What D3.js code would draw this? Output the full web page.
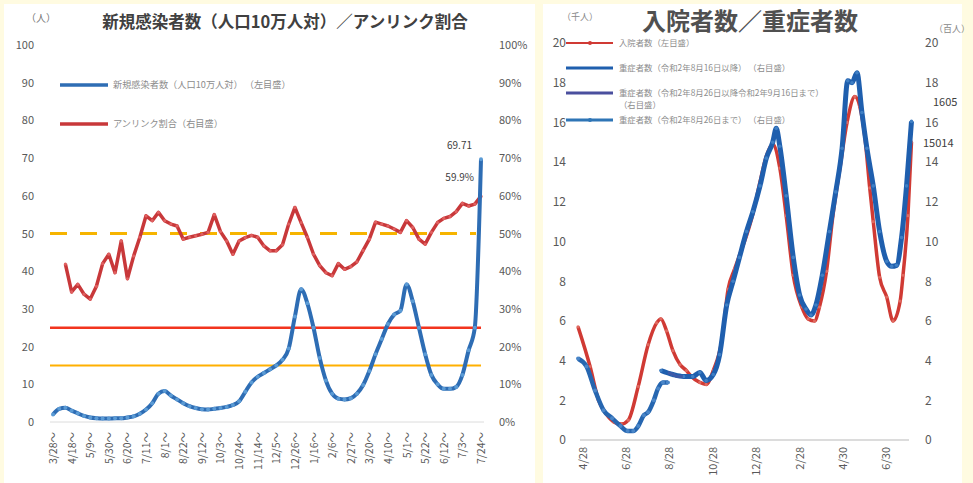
<!DOCTYPE html>
<html>
<head>
<meta charset="utf-8">
<script src="https://cdn.jsdelivr.net/npm/d3@7"></script>
<style>
    body { margin: 0; background: #fffbe1; }
    svg { display: block; }
    text { font-family: "Noto Sans CJK JP", "Noto Sans", sans-serif; }
</style>
</head>
<body>
<svg id="chart" width="973" height="483"></svg>
<script>
// ---------- left chart data (weekly, 3/28 ~ 7/24) ----------
const weekLabels = ["3/28～","4/18～","5/9～","5/30～","6/20～","7/11～","8/1～","8/22～","9/12～","10/3～","10/24～","11/14～","12/5～","12/26～","1/16～","2/6～","2/27～","3/20～","4/10～","5/1～","5/22～","6/12～","7/3～","7/24～"];

// new cases per 100k (left axis)
const newCases = [2.0,3.5,3.8,3.0,2.3,1.6,1.2,1.0,0.9,0.9,1.0,1.0,1.2,1.5,2.2,3.3,5.0,7.5,8.2,7.0,
    6.0,5.0,4.2,3.7,3.4,3.3,3.5,3.7,4.0,4.5,5.5,8.0,10.5,12.0,13.0,14.0,15.0,16.5,19.5,28.0,
    35.2,31.5,25.0,17.0,11.0,7.5,6.2,6.0,6.3,7.5,9.8,13.5,18.0,22.0,26.0,28.5,29.5,36.5,32.0,25.0,
    18.0,12.5,10.0,8.8,8.8,9.3,12.5,19.0,25.0,69.71];

// unlinked share % (right axis)
const unlinked = [null,null,41.9,34.5,36.5,33.9,32.6,36.0,42.0,44.5,39.6,48.0,38.0,44.0,49.0,54.7,53.4,55.6,53.4,52.5,
    52.0,48.5,49.0,49.4,49.8,50.3,55.0,50.5,48.0,44.5,48.0,48.9,49.5,49.0,46.7,45.4,45.4,47.0,52.5,56.9,
    52.9,49.0,44.5,41.5,39.6,38.8,42.0,40.5,41.2,42.5,45.5,48.5,53.0,52.5,52.0,51.2,50.3,53.4,51.6,48.5,
    47.2,50.3,52.9,54.0,54.5,55.8,58.0,57.3,57.8,59.9];

const refLevels = [50, 25, 15];

// ---------- right chart data ----------
const hospDates = ["2020-04-21","2020-05-08","2020-05-20","2020-05-31","2020-06-11","2020-06-21","2020-07-01","2020-07-15","2020-07-29","2020-08-10",
    "2020-08-16","2020-08-24","2020-09-02","2020-09-12","2020-09-21","2020-09-28","2020-10-10","2020-10-19","2020-10-29","2020-11-10",
    "2020-11-19","2020-11-28","2020-12-05","2020-12-15","2020-12-24","2021-01-03","2021-01-12","2021-01-21","2021-01-31","2021-02-09",
    "2021-02-19","2021-03-03","2021-03-12","2021-03-21","2021-03-28","2021-04-07","2021-04-16","2021-04-26","2021-05-06","2021-05-17",
    "2021-05-24","2021-05-31","2021-06-07","2021-06-12","2021-06-21","2021-07-01","2021-07-10","2021-07-20","2021-07-24","2021-07-31","2021-08-05"];
const hospValues = [5.7,3.7,2.0,1.3,0.9,0.8,1.0,2.7,4.8,5.9,
    6.1,5.5,4.5,3.8,3.5,3.2,2.9,2.8,3.5,5.0,
    7.6,8.6,9.3,10.3,11.4,13.0,14.3,14.9,13.7,11.3,
    8.3,6.7,6.1,6.0,6.7,8.5,11.3,13.7,16.0,17.3,
    16.8,15.3,12.7,11.0,8.2,7.2,6.0,7.0,8.3,11.3,15.014];

const severeLateDates = ["2020-08-16","2020-09-02","2020-09-17","2020-09-30","2020-10-10","2020-10-19","2020-10-29","2020-11-07","2020-11-17","2020-11-26",
    "2020-12-05","2020-12-15","2020-12-24","2021-01-03","2021-01-12","2021-01-21","2021-01-26","2021-01-31","2021-02-09","2021-02-19",
    "2021-02-28","2021-03-09","2021-03-16","2021-03-23","2021-04-01","2021-04-11","2021-04-20","2021-04-29","2021-05-07","2021-05-13",
    "2021-05-20","2021-05-27","2021-06-03","2021-06-12","2021-06-21","2021-07-01","2021-07-08","2021-07-15","2021-07-22","2021-07-29","2021-08-05"];
const severeLateValues = [3.5,3.3,3.2,3.2,3.4,3.0,3.3,4.3,6.8,8.0,
    9.2,10.5,11.5,12.8,14.2,15.0,15.7,14.8,12.3,9.2,
    7.3,6.6,6.3,6.8,8.3,10.5,12.5,14.7,18.1,18.0,
    18.5,16.5,14.7,12.8,10.5,9.0,8.75,8.8,10.2,12.8,16.05];

const severeMidDates = ["2020-08-26","2020-09-02","2020-09-09","2020-09-16"];
const severeMidValues = [3.4,3.3,3.2,3.2];

const severeEarlyDates = ["2020-04-21","2020-05-03","2020-05-15","2020-05-27","2020-06-08","2020-06-20","2020-06-30","2020-07-08","2020-07-15","2020-07-23",
    "2020-07-29","2020-08-06","2020-08-12","2020-08-19","2020-08-26"];
const severeEarlyValues = [4.1,3.7,2.5,1.5,1.1,0.7,0.45,0.45,0.7,1.25,1.4,2.0,2.6,2.9,2.9];

const rightTickDates = ["2020-04-28","2020-06-28","2020-08-28","2020-10-28","2020-12-28","2021-02-28","2021-04-30","2021-06-30"];
const rightTickLabels = ["4/28","6/28","8/28","10/28","12/28","2/28","4/30","6/30"];

const legendLeft = ["新規感染者数（人口10万人対） （左目盛）", "アンリンク割合（右目盛）"];
const legendRight = ["入院者数（左目盛）", "重症者数（令和2年8月16日以降） （右目盛）",
    "重症者数（令和2年8月26日以降令和2年9月16日まで）", "重症者数（令和2年8月26日まで） （右目盛）"];

const blueColor = "#2e6db4";
const redColor = "#c8383a";
const axisText = "#595959";

const svg = d3.select("#chart");

// panels
svg.append("rect").attr("x", 4).attr("y", 4).attr("width", 531).attr("height", 479).attr("fill", "#fff");
svg.append("rect").attr("x", 543).attr("y", 4).attr("width", 419).attr("height", 479).attr("fill", "#fff");

drawLeft();
drawRight();

function drawLeft() {
    const g = svg.append("g");
    const idx = d3.range(newCases.length);
    const x = d3.scalePoint().domain(idx).range([53, 481]);
    const y = d3.scaleLinear().domain([0, 100]).range([422, 45]);
    const yr = d3.scaleLinear().domain([0, 1]).range([422, 45]);

    // title + units
    g.append("text").attr("x", 285).attr("y", 28).attr("text-anchor", "middle")
        .attr("font-size", 16.5).attr("font-weight", 700).attr("fill", "#404040")
        .text("新規感染者数（人口10万人対）／アンリンク割合");
    g.append("text").attr("x", 26).attr("y", 22).attr("font-size", 10).attr("fill", "#777").text("（人）");

    // left axis
    const yAxis = d3.axisLeft(y).tickValues(d3.range(0, 101, 10)).tickSize(0).tickPadding(0);
    g.append("g").attr("transform", "translate(34,0)").call(yAxis)
        .call(a => a.select(".domain").remove())
        .selectAll("text").attr("font-size", 11).attr("fill", axisText)
        .attr("font-family", "'Noto Sans', sans-serif");

    // right axis (%)
    const yrAxis = d3.axisRight(yr).tickValues(d3.range(0, 1.01, 0.1)).tickFormat(d3.format(".0%")).tickSize(0).tickPadding(0);
    g.append("g").attr("transform", "translate(499,0)").call(yrAxis)
        .call(a => a.select(".domain").remove())
        .selectAll("text").attr("font-size", 11).attr("fill", axisText)
        .attr("font-family", "'Noto Sans', sans-serif");

    // baseline
    g.append("line").attr("x1", 50).attr("x2", 484).attr("y1", y(0)).attr("y2", y(0))
        .attr("stroke", "#dcdcdc").attr("stroke-width", 1);

    // x labels every 3 weeks
    const tickIdx = idx.filter(i => i % 3 === 0);
    g.append("g").selectAll("text")
        .data(tickIdx)
        .enter()
        .append("text")
        .attr("transform", d => `translate(${x(d) + 4},432) rotate(-90)`)
        .attr("text-anchor", "end")
        .attr("font-size", 10.5)
        .attr("fill", axisText)
        .text((d, i) => weekLabels[i]);

    // reference lines
    g.append("line").attr("x1", 50).attr("x2", 476).attr("y1", y(refLevels[0])).attr("y2", y(refLevels[0]))
        .attr("stroke", "#f6b400").attr("stroke-width", 3).attr("stroke-dasharray", "17,13");
    g.append("line").attr("x1", 50).attr("x2", 481).attr("y1", y(refLevels[1])).attr("y2", y(refLevels[1]))
        .attr("stroke", "#f2341e").attr("stroke-width", 2.5);
    g.append("line").attr("x1", 50).attr("x2", 481).attr("y1", y(refLevels[2])).attr("y2", y(refLevels[2]))
        .attr("stroke", "#ffb000").attr("stroke-width", 2);

    // unlinked share line
    const redPts = idx.filter(i => unlinked[i] != null);
    const redLine = d3.line().x(i => x(i)).y(i => yr(unlinked[i] / 100));
    g.append("path").attr("d", redLine(redPts)).attr("fill", "none")
        .attr("stroke", redColor).attr("stroke-width", 3.5).attr("stroke-linejoin", "round");
    g.append("g").selectAll("circle").data(redPts).enter().append("circle")
        .attr("cx", i => x(i)).attr("cy", i => yr(unlinked[i] / 100)).attr("r", 1.6).attr("fill", "#e06060");

    // new cases line
    const blueLine = d3.line().x(i => x(i)).y(i => y(newCases[i])).curve(d3.curveMonotoneX);
    g.append("path").attr("d", blueLine(idx)).attr("fill", "none")
        .attr("stroke", blueColor).attr("stroke-width", 4).attr("stroke-linejoin", "round");
    g.append("g").selectAll("circle").data(idx).enter().append("circle")
        .attr("cx", i => x(i)).attr("cy", i => y(newCases[i])).attr("r", 2).attr("fill", "#5b9bd5");

    // annotations
    const last = idx.length - 1;
    g.append("text").attr("x", x(last) - 9).attr("y", y(newCases[last]) - 10).attr("text-anchor", "end")
        .attr("font-size", 10).attr("fill", "#404040").text(newCases[last].toFixed(2));
    g.append("text").attr("x", x(last) - 7).attr("y", yr(unlinked[last] / 100) - 15).attr("text-anchor", "end")
        .attr("font-size", 10).attr("fill", "#404040").text(unlinked[last].toFixed(1) + "%");

    // legend
    const lg = g.append("g");
    [blueColor, redColor].forEach((c, i) => {
        const ly = 85 + i * 39;
        lg.append("line").attr("x1", 60).attr("x2", 108).attr("y1", ly).attr("y2", ly)
            .attr("stroke", c).attr("stroke-width", 3.5);
        lg.append("text").attr("x", 113).attr("y", ly + 3).attr("font-size", 9.2).attr("fill", "#8c8c8c")
            .text(legendLeft[i]);
    });
}

function drawRight() {
    const g = svg.append("g");
    const parse = d3.timeParse("%Y-%m-%d");
    const x = d3.scaleTime().domain([parse("2020-04-28"), parse("2021-06-30")]).range([583, 886]);
    const y = d3.scaleLinear().domain([0, 20]).range([440, 43]);

    // title + units
    g.append("text").attr("x", 750).attr("y", 30).attr("text-anchor", "middle")
        .attr("font-size", 24).attr("font-weight", 700).attr("fill", "#505050")
        .text("入院者数／重症者数");
    g.append("text").attr("x", 562).attr("y", 20).attr("font-size", 9).attr("fill", "#888").text("（千人）");
    g.append("text").attr("x", 934).attr("y", 32).attr("font-size", 9).attr("fill", "#888").text("（百人）");

    const ticks = d3.range(0, 21, 2);
    g.append("g").attr("transform", "translate(566,0)")
        .call(d3.axisLeft(y).tickValues(ticks).tickSize(0).tickPadding(0))
        .call(a => a.select(".domain").remove())
        .selectAll("text").attr("font-size", 12).attr("fill", axisText)
        .attr("font-family", "'Noto Sans', sans-serif");
    g.append("g").attr("transform", "translate(925,0)")
        .call(d3.axisRight(y).tickValues(ticks).tickSize(0).tickPadding(0))
        .call(a => a.select(".domain").remove())
        .selectAll("text").attr("font-size", 12).attr("fill", axisText)
        .attr("font-family", "'Noto Sans', sans-serif");

    // baseline
    g.append("line").attr("x1", 580).attr("x2", 909).attr("y1", y(0)).attr("y2", y(0))
        .attr("stroke", "#d0d0d0").attr("stroke-width", 1.5);

    // x labels
    g.append("g").selectAll("text")
        .data(rightTickDates)
        .enter()
        .append("text")
        .attr("transform", d => `translate(${x(parse(d)) + 4},447) rotate(-90)`)
        .attr("text-anchor", "end")
        .attr("font-size", 11)
        .attr("fill", axisText)
        .text((d, i) => rightTickLabels[i]);

    const line = d3.line().x(d => x(d[0])).y(d => y(d[1])).curve(d3.curveMonotoneX);
    const pairs = (ds, vs) => ds.map((d, i) => [parse(d), vs[i]]);

    const hosp = pairs(hospDates, hospValues);
    const early = pairs(severeEarlyDates, severeEarlyValues);
    const mid = pairs(severeMidDates, severeMidValues);
    const late = pairs(severeLateDates, severeLateValues);

    g.append("path").attr("d", line(hosp)).attr("fill", "none")
        .attr("stroke", "#d03a34").attr("stroke-width", 3.5);
    g.append("g").selectAll("circle").data(hosp).enter().append("circle")
        .attr("cx", d => x(d[0])).attr("cy", d => y(d[1])).attr("r", 1.6).attr("fill", "#e06a60");

    g.append("path").attr("d", line(early)).attr("fill", "none")
        .attr("stroke", "#2666b0").attr("stroke-width", 4.5);
    g.append("g").selectAll("circle").data(early).enter().append("circle")
        .attr("cx", d => x(d[0])).attr("cy", d => y(d[1])).attr("r", 2).attr("fill", "#4a86c8");

    g.append("path").attr("d", line(late)).attr("fill", "none")
        .attr("stroke", "#1f5fae").attr("stroke-width", 5).attr("stroke-linejoin", "round");
    g.append("g").selectAll("circle").data(late).enter().append("circle")
        .attr("cx", d => x(d[0])).attr("cy", d => y(d[1])).attr("r", 1.8).attr("fill", "#3f7fc4");

    g.append("path").attr("d", line(mid)).attr("fill", "none")
        .attr("stroke", "#3c5aa8").attr("stroke-width", 3);

    // end annotations
    const lastLate = late[late.length - 1];
    const lastHosp = hosp[hosp.length - 1];
    g.append("text").attr("x", 933).attr("y", y(lastLate[1]) - 15).attr("font-size", 11)
        .attr("fill", "#404040").attr("font-family", "'Noto Sans', sans-serif")
        .text(Math.round(lastLate[1] * 100));
    g.append("text").attr("x", 923).attr("y", y(lastHosp[1]) + 5).attr("font-size", 11)
        .attr("fill", "#404040").attr("font-family", "'Noto Sans', sans-serif")
        .text(Math.round(lastHosp[1] * 1000));

    // legend
    const lg = g.append("g");
    const legendY = [43, 68, 93, 120];
    const legendColors = ["#d03a34", "#1f5fae", "#4a4f9e", "#2e75b6"];
    legendY.forEach((ly, i) => {
        lg.append("line").attr("x1", 566).attr("x2", 613).attr("y1", ly).attr("y2", ly)
            .attr("stroke", legendColors[i]).attr("stroke-width", i === 0 ? 2 : 3);
        if (i === 0 || i === 3) {
            lg.append("circle").attr("cx", 590).attr("cy", ly).attr("r", 2).attr("fill", legendColors[i]);
        }
        lg.append("text").attr("x", 619).attr("y", ly + 3).attr("font-size", 8.4).attr("fill", "#8c8c8c")
            .text(legendRight[i]);
    });
    lg.append("text").attr("x", 619).attr("y", 108).attr("font-size", 8.4).attr("fill", "#8c8c8c").text("（右目盛）");
}
</script>
</body>
</html>
